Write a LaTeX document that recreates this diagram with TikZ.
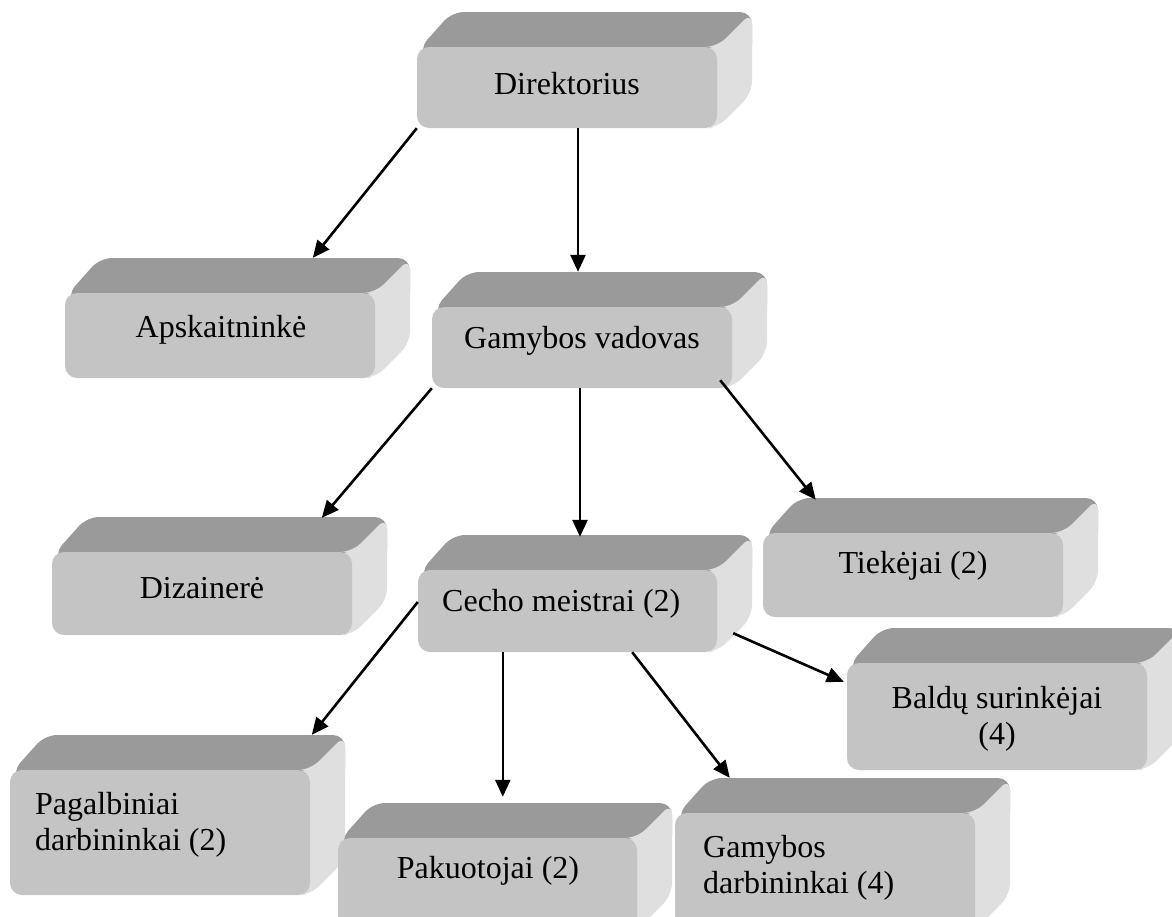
\documentclass[tikz,border=0pt]{standalone}
\usepackage{fontspec}
\setmainfont{Liberation Serif}
\usetikzlibrary{arrows.meta,calc,fit}
\definecolor{frontc}{HTML}{C4C4C4}
\definecolor{topc}{HTML}{9A9A9A}
\definecolor{sidec}{HTML}{DFDFDF}
\tikzset{
  frontbox/.style={fill=frontc, rounded corners=12pt, inner sep=0pt, draw=none},
  topface/.style={fill=topc, rounded corners=12pt},
  sideface/.style={fill=sidec, rounded corners=12pt},
  lbl/.style={inner sep=0pt, font=\fontsize{32pt}{36pt}\selectfont},
  arr/.style={line width=2.6pt, -{Triangle[length=17pt,width=15pt]}},
}
% name, x1, y1, x2, y2 (pixel coords of the front face)
\newcommand\cubebox[5]{%
  \fill[topface] (#2+8,#3+14) -- (#2+2,#3+2) -- (#2+35,#3-35) -- (#4+35,#3-35) -- (#4+35,#3+10) -- (#4,#3+10) -- cycle;
  \fill[sideface] (#4-15,#3) -- (#4,#3) -- (#4+35,#3-35) -- (#4+35,#5-35) -- (#4,#5) -- (#4-15,#5) -- cycle;
  \node[frontbox, fit={(#2,#3) (#4,#5)}] (#1) {};
}
\begin{document}
\begin{tikzpicture}[x=1pt,y=-1pt]
\useasboundingbox (0,0) rectangle (1172,916);
\clip (0,0) rectangle (1172,916);

\cubebox{dir}{417}{47}{717}{128}
\node[lbl] (dirt) at (567,84) {Direktorius};

\cubebox{aps}{65}{293}{375}{378}
\node[lbl] (apst) at (221,330) {Apskaitninkė};

\cubebox{gv}{432}{307}{732}{388}
\node[lbl] (gvt) at (582,341) {Gamybos vadovas};

\cubebox{diz}{52}{552}{352}{635}
\node[lbl] (dizt) at (202,588) {Dizainerė};

\cubebox{cec}{418}{570}{717}{652}
\node[lbl, anchor=west] (cect) at (442,604) {Cecho meistrai (2)};

\cubebox{tie}{763}{533}{1063}{617}
\node[lbl] (tiet) at (913,566) {Tiekėjai (2)};

\cubebox{bal}{847}{663}{1147}{770}
\node[lbl, align=center] (balt) at (997,719) {Baldų surinkėjai\\(4)};

\cubebox{pag}{10}{770}{310}{895}
\node[lbl, align=left, anchor=west] (pagt) at (35,825) {Pagalbiniai\\darbininkai (2)};

\cubebox{pak}{338}{838}{637}{930}
\node[lbl] (pakt) at (488,871) {Pakuotojai (2)};

\cubebox{gd}{675}{813}{975}{930}
\node[lbl, align=left, anchor=west] (gdt) at (703,868) {Gamybos\\darbininkai (4)};

% connectors
\draw[arr] (dir.south west) -- ($(aps.north west)+(248,-35)$);
\draw[arr] ($(dir.south)+(11,0)$) -- ($(gv.north)+(-4,-35)$);
\draw[arr] (gv.south west) -- ($(diz.north west)+(270,-34)$);
\draw[arr] ($(gv.south)+(-2,0)$) -- ($(cec.north)+(12.5,-33)$);
\draw[arr] ($(gv.south east)+(-12,-8)$) -- ($(tie.north west)+(53,-33)$);
\draw[arr] ($(cec.west)+(0,-9)$) -- ($(pag.north west)+(302,-35)$);
\draw[arr] ($(cec.south west)+(85,0)$) -- ($(pak.north west)+(165,-41)$);
\draw[arr] ($(cec.south east)+(-85,0)$) -- ($(gd.north west)+(55,-35)$);
\draw[arr] ($(cec.south east)+(16,-19)$) -- ($(bal.north west)+(-3,19)$);
\end{tikzpicture}
\end{document}
